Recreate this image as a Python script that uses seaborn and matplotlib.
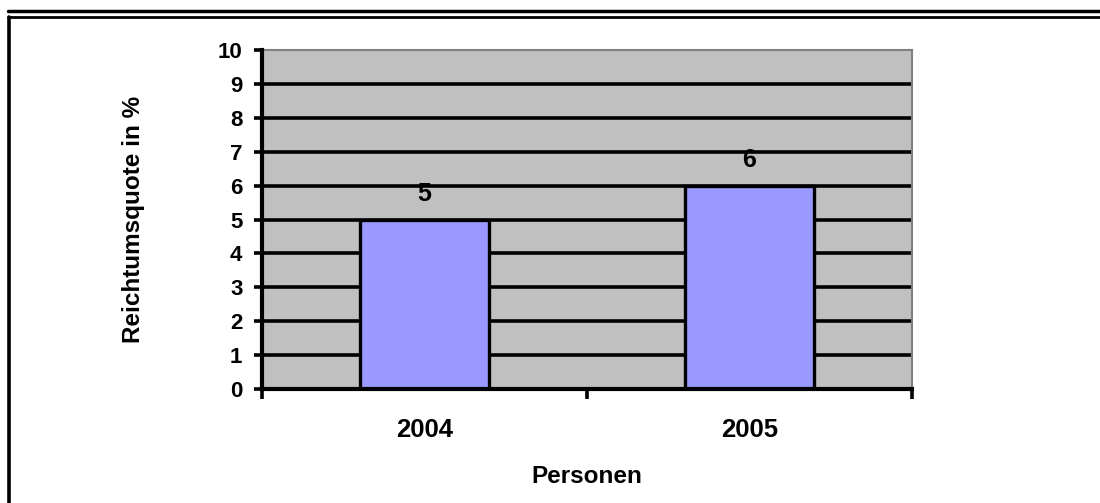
import seaborn as sns
import matplotlib.pyplot as plt
import pandas as pd
from matplotlib.lines import Line2D

# Daten aus der Vorlage
jahre = ["2004", "2005"]
quote = [5, 6]
y_ticks = list(range(0, 11))

df = pd.DataFrame({"Jahr": jahre, "Quote": quote})

sns.set_style("white")
plt.rcParams["font.family"] = ["Liberation Sans", "DejaVu Sans"]
plt.rcParams["font.weight"] = "bold"
plt.rcParams["text.color"] = "black"
plt.rcParams["axes.labelcolor"] = "black"
plt.rcParams["xtick.labelcolor"] = "black"
plt.rcParams["ytick.labelcolor"] = "black"

fig = plt.figure(figsize=(11, 5.03), dpi=100)
ax = fig.add_axes([0.238, 0.2266, 0.591, 0.674])
ax.set_facecolor("#C0C0C0")

sns.barplot(data=df, x="Jahr", y="Quote", color="#9999FF", width=0.395,
            edgecolor="black", linewidth=2.4, saturation=1, ax=ax, zorder=3)

ax.set_ylim(0, 10)
ax.set_xlim(-0.5, 1.5)
ax.set_yticks(y_ticks)
for y in y_ticks[1:-1]:
    ax.axhline(y, color="black", linewidth=2.6, zorder=1)

# Wertebeschriftung
for cont in ax.containers:
    ax.bar_label(cont, labels=[str(v) for v in quote], padding=10,
                 fontsize=18, fontweight="bold", color="black")

# Achsen im Excel-Stil
for s in ["left", "bottom"]:
    ax.spines[s].set_color("black")
    ax.spines[s].set_linewidth(3)
    ax.spines[s].set_zorder(5)
for s in ["top", "right"]:
    ax.spines[s].set_color("#808080")
    ax.spines[s].set_linewidth(1.5)

ax.tick_params(axis="y", length=6, width=2.6, color="black", labelsize=16,
               left=True, pad=8)
ax.tick_params(axis="x", which="major", length=0, labelsize=18.5, pad=21)
ax.set_xticks([-0.5, 0.5, 1.5], minor=True)
ax.tick_params(axis="x", which="minor", length=7.5, width=2.6, color="black",
               bottom=True)
for lab in ax.get_xticklabels() + ax.get_yticklabels():
    lab.set_fontweight("bold")

ax.set_xlabel("Personen", fontsize=17.5, fontweight="bold")
ax.set_ylabel("Reichtumsquote in %", fontsize=17.5, fontweight="bold")
ax.xaxis.set_label_coords(0.5, -0.224)
ax.yaxis.set_label_coords(-0.18, 0.5)

# Rahmen um das Diagramm
fig.add_artist(Line2D([0.007, 1.0], [0.978, 0.978], color="black", lw=2.5,
                      transform=fig.transFigure))
fig.add_artist(Line2D([0.007, 1.0], [0.966, 0.966], color="black", lw=2,
                      transform=fig.transFigure))
fig.add_artist(Line2D([0.0084, 0.0084], [0.0, 0.966], color="black", lw=2.6,
                      transform=fig.transFigure))

plt.savefig("out.png", dpi=100)
